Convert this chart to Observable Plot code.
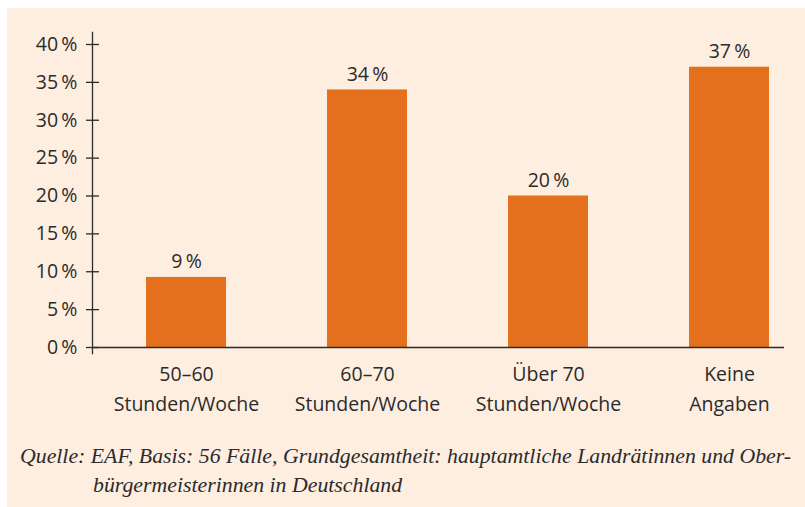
<!DOCTYPE html>
<html>
<head>
<meta charset="utf-8">
<script src="https://cdn.jsdelivr.net/npm/d3@7"></script>
<script src="https://cdn.jsdelivr.net/npm/@observablehq/plot@0.6"></script>
<style>
  html, body { margin: 0; padding: 0; background: #ffffff; }
  #panel { position: absolute; left: 7px; top: 8px; width: 798px; height: 499px; background: #fdeee0; }
  #chart svg { display: block; }
  #caption { font-family: "Liberation Serif", serif; font-style: italic; font-size: 21.8px; color: #2b2b2b;
    white-space: nowrap; padding-left: 86px; text-indent: -73px; line-height: 29px; margin-top: 14px; }
</style>
</head>
<body>
<div id="panel">
  <div id="chart"></div>
  <div id="caption">Quelle: EAF, Basis: 56 Fälle, Grundgesamtheit: hauptamtliche Landrätinnen und Ober-<br>bürgermeisterinnen in Deutschland</div>
</div>
<script>
const categories = ["50–60\nStunden/Woche", "60–70\nStunden/Woche", "Über 70\nStunden/Woche", "Keine\nAngaben"];
const values = [9.25, 34, 20, 37];
const valueLabels = ["9\u2009%", "34\u2009%", "20\u2009%", "37\u2009%"];
const yTicks = [0, 5, 10, 15, 20, 25, 30, 35, 40];

const data = categories.map((c, i) => ({cat: c, value: values[i], label: valueLabels[i]}));
const ink = "#2b2b2b";

const chart = Plot.plot({
  width: 798,
  height: 420,
  marginLeft: 85,
  marginRight: 21,
  marginTop: 24,
  marginBottom: 75,
  style: {background: "transparent", fontFamily: "Open Sans", fontSize: "19.5px", color: ink},
  x: {domain: categories, range: [87, 814], paddingInner: 0.56, paddingOuter: 0.28, label: null},
  y: {domain: [0, 40], range: [339, 36], label: null},
  marks: [
    Plot.barY(data, {x: "cat", y: "value", fill: "#e4701e"}),
    Plot.text(data, {x: "cat", y: "value", text: "label", lineAnchor: "bottom", dy: -9, fill: ink, fontSize: 19.5}),
    Plot.frame({anchor: "left", stroke: ink, strokeWidth: 1.3}),
    Plot.ruleY([0], {stroke: ink, strokeWidth: 1.3}),
    Plot.axisY({ticks: yTicks, tickSize: 13, dx: 7, tickFormat: () => "", stroke: ink, strokeWidth: 1.3, label: null}),
    Plot.axisY({ticks: yTicks, tickSize: 0, tickPadding: 15, tickFormat: d => d + "\u2009%", fill: ink, label: null}),
    Plot.axisX({tickSize: 0, tickPadding: 6, lineHeight: 1.54, fill: ink, label: null})
  ]
});
document.getElementById("chart").appendChild(chart);
</script>
</body>
</html>
